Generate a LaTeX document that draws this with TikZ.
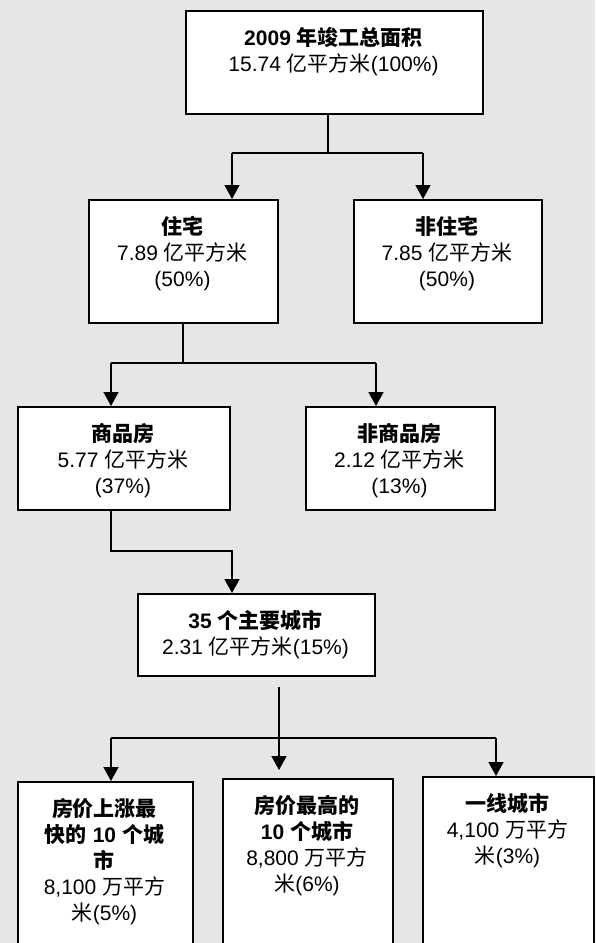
\documentclass[tikz,border=0pt]{standalone}
\usepackage{fontspec}
\setmainfont{Liberation Sans}
\newfontfamily\cjkfont{Noto Sans CJK SC}
\usetikzlibrary{arrows.meta}
\definecolor{bgc}{RGB}{229,230,232}
\newcommand\zh[1]{{\cjkfont #1}}
\newcommand\fl{\rule{0pt}{20pt}}
\begin{document}
\begin{tikzpicture}[x=1pt,y=-1pt,
  box/.style={draw=black,line width=2pt,fill=white,inner sep=0pt,anchor=north west},
  txt/.style={anchor=north,align=center,inner sep=0pt,font=\fontsize{21}{26}\selectfont},
  conn/.style={line width=1.6pt},
  arr/.style={conn,-{Triangle[length=14pt,width=15pt]}}]
\useasboundingbox (0,0) rectangle (595,943);
\fill[bgc] (0,0) rectangle (595,943);
\begin{scope}
\clip (0,0) rectangle (595,943);
% boxes
\node[box,minimum width=297pt,minimum height=103pt] (top) at (185,10) {};
\node[box,minimum width=189pt,minimum height=123pt] (zz) at (88,199) {};
\node[box,minimum width=188pt,minimum height=123pt] (fzz) at (353,199) {};
\node[box,minimum width=212pt,minimum height=103pt] (sp) at (17,406) {};
\node[box,minimum width=189pt,minimum height=103pt] (fsp) at (305,406) {};
\node[box,minimum width=237pt,minimum height=82pt] (c35) at (137,593) {};
\node[box,minimum width=175pt,minimum height=200pt] (b1) at (17,781) {};
\node[box,minimum width=170pt,minimum height=200pt] (b2) at (222,778) {};
\node[box,minimum width=171pt,minimum height=200pt] (b3) at (422,776) {};
% texts
\node[txt] (topT) at (333.5,25.5) {\fl\textbf{2009 \zh{年竣工总面积}}\\15.74 \zh{亿平方米}(100\%)};
\node[txt] (zzT) at (182.5,214.5) {\fl\textbf{\zh{住宅}}\\7.89 \zh{亿平方米}\\(50\%)};
\node[txt] (fzzT) at (447,214.5) {\fl\textbf{\zh{非住宅}}\\7.85 \zh{亿平方米}\\(50\%)};
\node[txt] (spT) at (123,421.5) {\fl\textbf{\zh{商品房}}\\5.77 \zh{亿平方米}\\(37\%)};
\node[txt] (fspT) at (399.5,421.5) {\fl\textbf{\zh{非商品房}}\\2.12 \zh{亿平方米}\\(13\%)};
\node[txt] (c35T) at (255.5,608.5) {\fl\textbf{35 \zh{个主要城市}}\\2.31 \zh{亿平方米}(15\%)};
\node[txt] (b1T) at (104.5,796.5) {\fl\textbf{\zh{房价上涨最}}\\\textbf{\zh{快的} 10 \zh{个城}}\\\textbf{\zh{市}}\\8,100 \zh{万平方}\\\zh{米}(5\%)};
\node[txt] (b2T) at (307,793.5) {\fl\textbf{\zh{房价最高的}}\\\textbf{10 \zh{个城市}}\\8,800 \zh{万平方}\\\zh{米}(6\%)};
\node[txt] (b3T) at (507.5,791.5) {\fl\textbf{\zh{一线城市}}\\4,100 \zh{万平方}\\\zh{米}(3\%)};
% connectors level 1
\coordinate (j1) at (328,153);
\coordinate (l1) at (232,153);
\coordinate (r1) at (423,153);
\draw[conn] (top.south -| j1) -- (j1);
\draw[conn] (l1) -- (r1);
\draw[arr] (l1) -- (l1 |- zz.north);
\draw[arr] (r1) -- (r1 |- fzz.north);
% level 2
\coordinate (j2) at (183,363);
\coordinate (l2) at (111,363);
\coordinate (r2) at (376,363);
\draw[conn] (zz.south -| j2) -- (j2);
\draw[conn] (l2) -- (r2);
\draw[arr] (l2) -- (l2 |- sp.north);
\draw[arr] (r2) -- (r2 |- fsp.north);
% level 3
\coordinate (k3) at (111,551);
\coordinate (m3) at (232,551);
\draw[arr] (sp.south -| k3) -- (k3) -- (m3) -- (m3 |- c35.north);
% level 4
\coordinate (s4) at (279,687);
\coordinate (e4) at (279,770);
\coordinate (l4) at (111,738);
\coordinate (r4) at (496,738);
\draw[arr] (s4) -- (e4);
\draw[conn] (l4) -- (r4);
\draw[arr] (l4) -- (l4 |- b1.north);
\draw[arr] (r4) -- (r4 |- b3.north);
\end{scope}
\end{tikzpicture}
\end{document}
